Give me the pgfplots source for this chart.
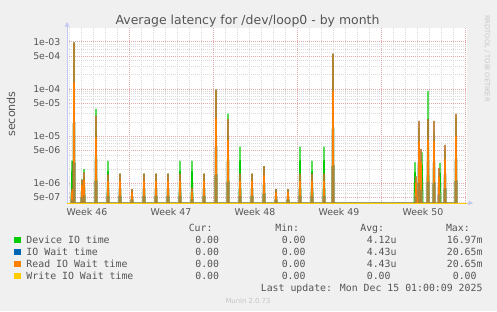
\documentclass[border=0pt]{standalone}
\usepackage{pgfplots}
\usepackage{pgfplotstable}
\pgfplotsset{compat=1.18}
\usepackage{fontspec}
\setmainfont{DejaVu Sans}
\newfontfamily\monofont{DejaVu Sans Mono}
\usetikzlibrary{arrows.meta}
\definecolor{cgreen}{HTML}{00CC00}
\definecolor{cblue}{HTML}{0066B3}
\definecolor{corange}{HTML}{FF8000}
\definecolor{cyellow}{HTML}{FFCC00}
\definecolor{bgc}{HTML}{F0F0F0}
\definecolor{txt}{HTML}{555555}
\definecolor{mgrid}{HTML}{E4A8A8}
\definecolor{ngrid}{HTML}{DADADA}
\definecolor{axc}{HTML}{C4C8F0}
\definecolor{faint}{HTML}{C6C6C6}

% Device IO time (zero values are drawn at the bottom of the log axis, 3.83e-7)
\pgfplotstableread[row sep=\\]{
x y\\
52 3.83e-7\\ 54 3.0e-6\\ 56 3.83e-7\\ 58 9.7e-4\\ 60 3.83e-7\\
72 3.83e-7\\ 74 1.2e-6\\ 76 3.83e-7\\ 78 2.0e-6\\ 80 3.83e-7\\
100 3.83e-7\\ 102 3.8e-5\\ 104 3.83e-7\\
124 3.83e-7\\ 126 3.0e-6\\ 128 3.83e-7\\
148 3.83e-7\\ 150 1.6e-6\\ 152 3.83e-7\\
172 3.83e-7\\ 174 7.5e-7\\ 176 3.83e-7\\
196 3.83e-7\\ 198 1.6e-6\\ 200 3.83e-7\\
220 3.83e-7\\ 222 1.6e-6\\ 224 3.83e-7\\
244 3.83e-7\\ 246 1.6e-6\\ 248 3.83e-7\\
268 3.83e-7\\ 270 3.0e-6\\ 272 3.83e-7\\
292 3.83e-7\\ 294 3.0e-6\\ 296 3.83e-7\\
316 3.83e-7\\ 318 1.6e-6\\ 320 3.83e-7\\
340 3.83e-7\\ 342 9.6e-5\\ 344 3.83e-7\\
364 3.83e-7\\ 366 3.0e-5\\ 368 3.83e-7\\
388 3.83e-7\\ 390 6.0e-6\\ 392 3.83e-7\\
412 3.83e-7\\ 414 1.6e-6\\ 416 3.83e-7\\
436 3.83e-7\\ 438 2.3e-6\\ 440 3.83e-7\\
460 3.83e-7\\ 462 7.5e-7\\ 464 3.83e-7\\
484 3.83e-7\\ 486 7.5e-7\\ 488 3.83e-7\\
508 3.83e-7\\ 510 6.0e-6\\ 512 3.83e-7\\
532 3.83e-7\\ 534 3.0e-6\\ 536 3.83e-7\\
556 3.83e-7\\ 558 6.0e-6\\ 560 3.83e-7\\
574 3.83e-7\\ 576 5.6e-4\\ 578 3.83e-7\\
738 3.83e-7\\ 740 2.8e-6\\ 742 3.83e-7\\
746 3.83e-7\\ 748 1.5e-5\\ 750 3.83e-7\\
752 3.83e-7\\ 754 4.5e-6\\ 756 3.83e-7\\
764 3.83e-7\\ 766 9.1e-5\\ 768 3.83e-7\\
776 3.83e-7\\ 778 1.2e-5\\ 780 3.83e-7\\
788 3.83e-7\\ 790 2.7e-6\\ 792 3.83e-7\\
798 3.83e-7\\ 800 5.0e-6\\ 802 3.83e-7\\
820 3.83e-7\\ 822 2.5e-5\\ 824 3.83e-7\\
}\devtab

% Read IO Wait time (= IO Wait time)
\pgfplotstableread[row sep=\\]{
x y\\
52 3.83e-7\\ 54 7.5e-7\\ 56 3.83e-7\\ 58 9.7e-4\\ 60 3.83e-7\\
72 3.83e-7\\ 74 1.2e-6\\ 76 3.83e-7\\ 78 1.7e-6\\ 80 3.83e-7\\
100 3.83e-7\\ 102 2.7e-5\\ 104 3.83e-7\\
124 3.83e-7\\ 126 1.55e-6\\ 128 3.83e-7\\
148 3.83e-7\\ 150 1.6e-6\\ 152 3.83e-7\\
172 3.83e-7\\ 174 7.5e-7\\ 176 3.83e-7\\
196 3.83e-7\\ 198 1.6e-6\\ 200 3.83e-7\\
220 3.83e-7\\ 222 1.6e-6\\ 224 3.83e-7\\
244 3.83e-7\\ 246 1.6e-6\\ 248 3.83e-7\\
268 3.83e-7\\ 270 1.6e-6\\ 272 3.83e-7\\
292 3.83e-7\\ 294 8.0e-7\\ 296 3.83e-7\\
316 3.83e-7\\ 318 1.6e-6\\ 320 3.83e-7\\
340 3.83e-7\\ 342 9.6e-5\\ 344 3.83e-7\\
364 3.83e-7\\ 366 2.3e-5\\ 368 3.83e-7\\
388 3.83e-7\\ 390 1.6e-6\\ 392 3.83e-7\\
412 3.83e-7\\ 414 1.6e-6\\ 416 3.83e-7\\
436 3.83e-7\\ 438 2.3e-6\\ 440 3.83e-7\\
460 3.83e-7\\ 462 7.5e-7\\ 464 3.83e-7\\
484 3.83e-7\\ 486 7.5e-7\\ 488 3.83e-7\\
508 3.83e-7\\ 510 1.6e-6\\ 512 3.83e-7\\
532 3.83e-7\\ 534 1.6e-6\\ 536 3.83e-7\\
556 3.83e-7\\ 558 1.6e-6\\ 560 3.83e-7\\
574 3.83e-7\\ 576 5.6e-4\\ 578 3.83e-7\\
740 3.83e-7\\ 742 1.4e-6\\ 744 3.83e-7\\
746 3.83e-7\\ 748 2.1e-5\\ 750 3.83e-7\\
750 3.83e-7\\ 752 5.3e-6\\ 754 3.83e-7\\
764 3.83e-7\\ 766 2.3e-5\\ 768 3.83e-7\\
776 3.83e-7\\ 778 2.1e-5\\ 780 3.83e-7\\
786 3.83e-7\\ 788 2.1e-6\\ 790 3.83e-7\\
798 3.83e-7\\ 800 6.5e-6\\ 802 3.83e-7\\
820 3.83e-7\\ 822 2.95e-5\\ 824 3.83e-7\\
}\readtab

% Write IO Wait time: all zero
\pgfplotstableread[row sep=\\]{
x y\\
44 3.83e-7\\ 844 3.83e-7\\
}\writetab

\begin{document}
\begin{tikzpicture}[x=1bp,y=1bp]
\fill[bgc] (0,0) rectangle (497,311);
\begin{axis}[
  at={(67bp,108bp)}, anchor=south west,
  scale only axis, width=400bp, height=175bp,
  xmin=44, xmax=844,
  ymode=log, ymin=3.83e-7, ymax=1.95e-3,
  axis background/.style={fill=white},
  axis lines=left,
  axis line style={draw=axc, line width=0.8bp},
  every outer x axis line/.append style={-{Triangle[length=4.5bp,width=4.5bp]}, shorten >=-6bp},
  every outer y axis line/.append style={-{Triangle[length=4.5bp,width=4.5bp]}, shorten >=-6bp},
  major tick length=0pt, minor tick length=0pt,
  xtick={84,252,420,588,756},
  xticklabels={Week 46,Week 47,Week 48,Week 49,Week 50},
  minor xtick={48,72,96,120,144,192,216,240,264,288,312,360,384,408,432,456,480,528,552,576,600,624,648,696,720,744,768,792,816},
  extra x ticks={168,336,504,672,840},
  extra x tick labels={},
  extra x tick style={grid=major},
  xmajorgrids=false, xminorgrids=true,
  ytick={5e-7,1e-6,5e-6,1e-5,5e-5,1e-4,5e-4,1e-3},
  yticklabels={5e-07,1e-06,5e-06,1e-05,5e-05,1e-04,5e-04,1e-03},
  minor ytick={4e-7,6e-7,7e-7,8e-7,9e-7,2e-6,3e-6,4e-6,6e-6,7e-6,8e-6,9e-6,2e-5,3e-5,4e-5,6e-5,7e-5,8e-5,9e-5,2e-4,3e-4,4e-4,6e-4,7e-4,8e-4,9e-4},
  ymajorgrids=true, yminorgrids=true,
  major grid style={draw=mgrid, line width=0.7bp, dash pattern=on 1bp off 1bp},
  minor grid style={draw=ngrid, line width=0.7bp, dash pattern=on 1bp off 1bp},
  xticklabel style={font=\fontsize{9.4}{10}\selectfont, text=txt, inner sep=0pt, anchor=north, yshift=-5bp},
  yticklabel style={font=\fontsize{9.4}{10}\selectfont, text=txt, inner sep=0pt, anchor=east, xshift=-6.5bp},
]
\addplot[cgreen, line width=1bp, sharp plot, no marks] table[x=x,y=y] {\devtab};
\addplot[cblue, line width=1bp, sharp plot, no marks] table[x=x,y=y] {\readtab};
\addplot[corange, line width=1bp, sharp plot, no marks] table[x=x,y=y] {\readtab};
\addplot[cyellow, line width=1bp, sharp plot, no marks] table[x=x,y=y] {\writetab};
\end{axis}
% title and labels
\node[anchor=base, font=\fontsize{12.5}{14}\selectfont, text=txt] at (247.5,287) {Average latency for /dev/loop0 - by month};
\node[rotate=90, font=\fontsize{11.2}{13}\selectfont, text=txt] at (11,197) {seconds};
\node[rotate=-90, font=\fontsize{6.75}{8}\selectfont, text=faint] at (487,252.5) {RRDTOOL / TOBI OETIKER};
% legend
\begin{scope}[every node/.style={font=\monofont\fontsize{9.9}{11}\selectfont, text=txt, inner sep=0pt}]
\node[anchor=base east] at (212.7,80) {Cur:};
\node[anchor=base east] at (299.3,80) {Min:};
\node[anchor=base east] at (384.3,80) {Avg:};
\node[anchor=base east] at (470,80) {Max:};
\fill[cgreen] (14,68) rectangle (20.5,74.5);
\fill[cblue] (14,56) rectangle (20.5,62.5);
\fill[corange] (14,44) rectangle (20.5,50.5);
\fill[cyellow] (14,32) rectangle (20.5,38.5);
\node[anchor=base west] at (26.3,68) {Device IO time};
\node[anchor=base west] at (26.3,56) {IO Wait time};
\node[anchor=base west] at (26.3,44) {Read IO Wait time};
\node[anchor=base west] at (26.3,32) {Write IO Wait time};
\foreach \yy in {68,56,44,32} {
  \node[anchor=base east] at (219.3,\yy) {0.00};
  \node[anchor=base east] at (305.7,\yy) {0.00};
}
\node[anchor=base east] at (396.7,68) {4.12u};
\node[anchor=base east] at (396.7,56) {4.43u};
\node[anchor=base east] at (396.7,44) {4.43u};
\node[anchor=base east] at (396.7,32) {0.00\phantom{u}};
\node[anchor=base east] at (482.7,68) {16.97m};
\node[anchor=base east] at (482.7,56) {20.65m};
\node[anchor=base east] at (482.7,44) {20.65m};
\node[anchor=base east] at (482.7,32) {0.00\phantom{m}};
\node[anchor=base east] at (482.7,19.5) {Last update: Mon Dec 15 01:00:09 2025};
\end{scope}
\node[anchor=base, font=\fontsize{6.9}{8}\selectfont, text=faint, inner sep=0pt] at (248,7.7) {Munin 2.0.73};
\end{tikzpicture}
\end{document}
